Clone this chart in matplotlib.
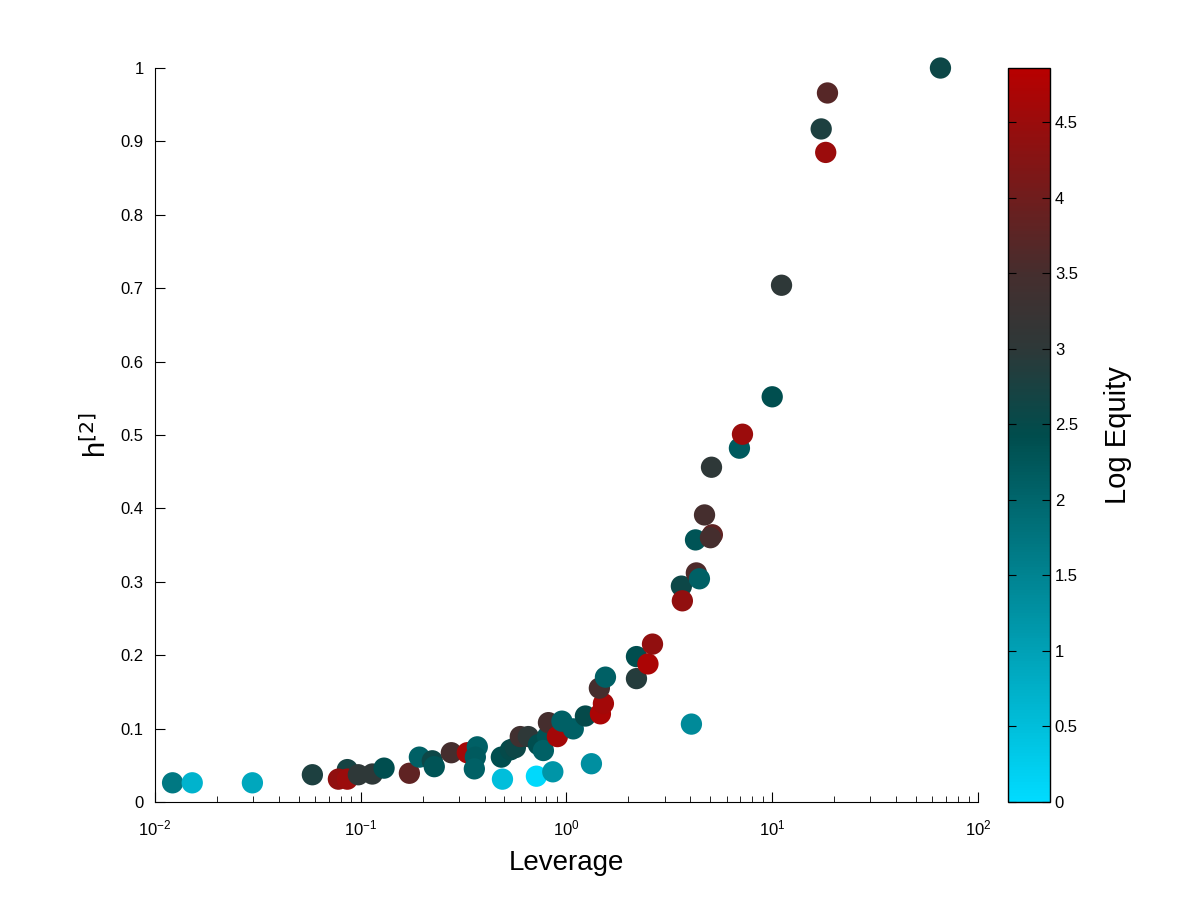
import numpy as np
import matplotlib
matplotlib.use("Agg")
import matplotlib.pyplot as plt
from matplotlib.colors import LinearSegmentedColormap, Normalize
from matplotlib.ticker import LogLocator, NullFormatter

plt.rcParams['font.family'] = ['Liberation Sans', 'DejaVu Sans']

# leverage, h[2], log equity
leverage = [0.0122, 0.0152, 0.0298, 0.0583, 0.0862, 0.0780, 0.0862, 0.0975, 0.114, 0.130,
            0.1726, 0.193, 0.223, 0.228, 0.276, 0.330, 0.369, 0.361, 0.357, 0.483,
            0.489, 0.535, 0.565, 0.597, 0.653, 0.731, 0.715, 0.809, 0.773, 0.818,
            0.904, 0.859, 0.951, 1.08, 1.237, 1.323, 1.463, 1.513, 1.446, 1.548,
            2.19, 2.19, 2.49, 2.62, 4.05, 3.62, 3.66, 4.28, 4.43, 4.24,
            4.69, 5.12, 5.01, 5.07, 6.93, 7.17, 10.0, 11.1, 17.3, 18.2,
            18.56, 65.7]
h2 = [0.026, 0.026, 0.026, 0.037, 0.044, 0.031, 0.031, 0.037, 0.038, 0.046,
      0.039, 0.061, 0.056, 0.048, 0.067, 0.067, 0.075, 0.061, 0.045, 0.061,
      0.031, 0.071, 0.074, 0.089, 0.089, 0.078, 0.035, 0.089, 0.070, 0.108,
      0.089, 0.041, 0.110, 0.0995, 0.117, 0.052, 0.120, 0.134, 0.155, 0.170,
      0.198, 0.168, 0.188, 0.215, 0.106, 0.294, 0.274, 0.312, 0.304, 0.357,
      0.391, 0.364, 0.360, 0.456, 0.482, 0.501, 0.552, 0.704, 0.917, 0.885,
      0.966, 1.0]
log_equity = [1.7, 0.7, 0.9, 2.8, 2.7, 4.4, 4.5, 3.0, 3.0, 2.4,
              3.8, 2.1, 2.6, 2.3, 3.5, 4.6, 2.1, 2.2, 2.1, 2.4,
              0.5, 2.5, 2.6, 3.4, 3.0, 2.4, 0.05, 2.3, 2.1, 3.5,
              4.6, 1.2, 2.1, 2.1, 2.5, 1.3, 4.7, 4.6, 3.5, 2.1,
              2.4, 2.9, 4.7, 4.4, 1.4, 2.6, 4.4, 3.6, 2.1, 2.3,
              3.5, 3.8, 3.5, 3.0, 2.2, 4.5, 2.4, 3.0, 2.8, 4.5,
              3.7, 2.6]

cmap = LinearSegmentedColormap.from_list("cyan_red", [
    (0.0, (0.0, 0.86, 1.0)),
    (0.5, (0.0, 0.30, 0.30)),
    (0.62, (0.18, 0.22, 0.22)),
    (0.72, (0.27, 0.18, 0.18)),
    (1.0, (0.72, 0.0, 0.0)),
])
norm = Normalize(vmin=0, vmax=4.86)

fig = plt.figure(figsize=(12, 9.01), dpi=100)
ax = fig.add_axes([0.129, 0.11, 0.686, 0.8145])
sc = ax.scatter(leverage, h2, c=log_equity, cmap=cmap, norm=norm, s=235,
                edgecolors='none', clip_on=False, zorder=3)

ax.set_xscale('log')
ax.set_xlim(1e-2, 1e2)
ax.set_ylim(0, 1)
ax.set_yticks(np.arange(0, 1.01, 0.1))
ax.set_yticklabels(['0', '0.1', '0.2', '0.3', '0.4', '0.5', '0.6', '0.7', '0.8', '0.9', '1'])
ax.xaxis.set_minor_locator(LogLocator(base=10, subs=np.arange(2, 10)))
ax.xaxis.set_minor_formatter(NullFormatter())
ax.spines['top'].set_visible(False)
ax.spines['right'].set_visible(False)
ax.tick_params(direction='in', labelsize=12, length=7, pad=8)
ax.tick_params(axis='x', pad=12)
ax.tick_params(which='minor', direction='in', length=4)
ax.set_xlabel('Leverage', fontsize=20, labelpad=8)
ax.set_ylabel(r'h$^{[2]}$', fontsize=21, labelpad=6)

cax = fig.add_axes([0.84, 0.11, 0.035, 0.8145])
cb = fig.colorbar(sc, cax=cax)
cb.set_ticks(np.arange(0, 4.6, 0.5))
cb.set_ticklabels(['0', '0.5', '1', '1.5', '2', '2.5', '3', '3.5', '4', '4.5'])
cb.outline.set_linewidth(1)
cax.tick_params(direction='in', labelsize=12, length=6, left=True, right=True)
cb.set_label('Log Equity', fontsize=21, labelpad=19)

fig.savefig('out.png', dpi=100)
